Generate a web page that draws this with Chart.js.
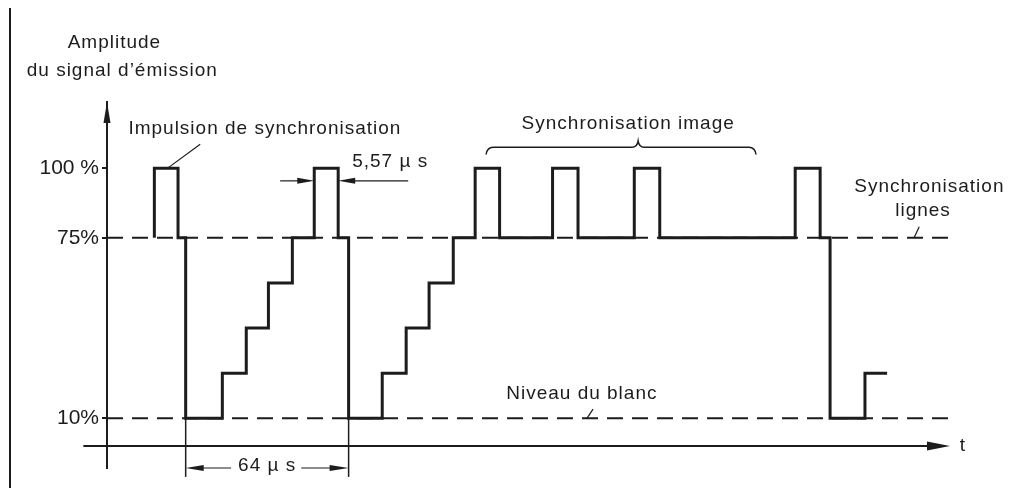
<!DOCTYPE html>
<html>
<head>
<meta charset="utf-8">
<script src="https://cdn.jsdelivr.net/npm/chart.js@4.4.1/dist/chart.umd.min.js"></script>
<style>
  html, body { margin: 0; padding: 0; background: #fff; }
</style>
</head>
<body>
<canvas id="signal-chart" width="1015" height="488"></canvas>
<script>
// Amplitude ticks (% of emission signal)
const levelTicks = [10, 75, 100];
const levelLabels = ['10%', '75%', '100 %'];

// Signal edges: time (µs) where the signal jumps, and the level it jumps to
const edgeTimes = [18.6, 18.6, 27.9, 30.9, 45.3, 54.7, 63.4, 72.8, 81.4, 90.8,
  94.9, 108.1, 117.5, 126.5, 136.0, 144.6, 154.2, 175.0, 185.0, 207.1,
  217.1, 270.3, 280.1, 284.0, 297.7, 306.4];
const edgeLevels = [75, 100, 75, 10, 26.25, 42.5, 58.75, 75, 100, 75,
  10, 26.25, 42.5, 58.75, 75, 100, 75, 100, 75, 100,
  75, 100, 75, 10, 26.25, 26.25];

const syncLevel = 75;      // synchronisation lignes
const whiteLevel = 10;     // niveau du blanc
const refLineEnd = 330.3;  // end of the dashed levels
const lineStart = 30.9;    // 64 µs line period
const lineEnd = 94.9;
const pulseStart = 81.4;   // 5,57 µs sync pulse
const pulseEnd = 90.8;

const ink = '#1c1c1c';
const textFont = '19px "Liberation Sans", Arial, sans-serif';

// Filled arrow head, tip at (x, y), pointing along (dx, dy)
function arrowHead(ctx, x, y, dx, dy, len, half) {
    const bx = x - dx * len, by = y - dy * len;
    ctx.beginPath();
    ctx.moveTo(x, y);
    ctx.lineTo(bx - dy * half, by + dx * half);
    ctx.lineTo(bx + dy * half, by - dx * half);
    ctx.closePath();
    ctx.fill();
}

function segment(ctx, x1, y1, x2, y2, w) {
    ctx.lineWidth = w;
    ctx.beginPath();
    ctx.moveTo(x1, y1);
    ctx.lineTo(x2, y2);
    ctx.stroke();
}

const notes = [
    { text: 'Amplitude', t: 2.9, v: 145.4, align: 'center' },
    { text: 'du signal d\u2019émission', t: 6.0, v: 135.3, align: 'center' },
    { text: 'Impulsion de synchronisation', t: 8.4, v: 114.4, align: 'left' },
    { text: '5,57 µ s', t: 96.3, v: 102.4, align: 'left' },
    { text: 'Synchronisation image', t: 204.7, v: 116.2, align: 'center' },
    { text: 'Synchronisation', t: 323.0, v: 93.2, align: 'center' },
    { text: 'lignes', t: 320.5, v: 84.9, align: 'center' },
    { text: 'Niveau du blanc', t: 156.8, v: 18.7, align: 'left' },
    { text: 't', t: 336.2, v: 0.2, align: 'center' }
];

// Axis arrows, dimension lines, brace, leaders and labels
const annotations = {
    id: 'annotations',
    afterDraw(chart) {
        const { ctx, scales: { x, y } } = chart;
        const px = t => x.getPixelForValue(t);
        const py = v => y.getPixelForValue(v);
        ctx.save();
        ctx.strokeStyle = ink;
        ctx.fillStyle = ink;

        // page border on the left
        segment(ctx, 10, 8, 10, 488, 2);

        // time axis with arrow
        segment(ctx, px(-9.3), py(0), px(x.max) - 18, py(0), 2);
        arrowHead(ctx, px(x.max), py(0), 1, 0, 23, 4.5);
        // amplitude axis arrow
        arrowHead(ctx, px(0), py(y.max), 0, -1, 21, 3.5);

        // 5,57 µs dimension
        const dimY = py(95.5);
        segment(ctx, px(68.0), dimY, px(pulseStart) - 10, dimY, 1.2);
        arrowHead(ctx, px(pulseStart), dimY, 1, 0, 17, 3);
        segment(ctx, px(pulseEnd) + 10, dimY, px(118.3), dimY, 1.2);
        arrowHead(ctx, px(pulseEnd), dimY, -1, 0, 17, 3);

        // 64 µs dimension
        const botY = py(-7.9);
        segment(ctx, px(lineStart), py(whiteLevel), px(lineStart), py(-11.1), 1.5);
        segment(ctx, px(lineEnd), py(whiteLevel), px(lineEnd), py(-11.1), 1.5);
        ctx.font = textFont;
        ctx.letterSpacing = '1px';
        const label64 = '64 µ s';
        const midX = px((lineStart + lineEnd) / 2);
        const halfW = ctx.measureText(label64).width / 2;
        segment(ctx, px(lineStart) + 8, botY, midX - halfW - 7, botY, 1.2);
        segment(ctx, midX + halfW + 5, botY, px(lineEnd) - 8, botY, 1.2);
        arrowHead(ctx, px(lineStart), botY, -1, 0, 18, 3);
        arrowHead(ctx, px(lineEnd), botY, 1, 0, 19, 3);
        ctx.textAlign = 'center';
        ctx.textBaseline = 'middle';
        ctx.fillText(label64, midX, py(-7.2));

        // leader lines
        segment(ctx, px(23.7), py(100), px(36.6), py(108.7), 1.2);
        segment(ctx, px(317.0), py(75), px(319.0), py(79), 1.2);
        segment(ctx, px(188.5), py(10), px(190.9), py(13.3), 1.2);

        // brace over the field sync pulses
        const bL = px(148.9), bR = px(254.9), bM = px(208.6);
        const bTip = py(105.0), bBar = py(107.6), bPeak = py(109.8);
        ctx.lineWidth = 1.5;
        ctx.beginPath();
        ctx.moveTo(bL, bTip);
        ctx.quadraticCurveTo(bL + 1, bBar, bL + 7, bBar);
        ctx.lineTo(bM - 6, bBar);
        ctx.quadraticCurveTo(bM - 1, bBar, bM, bPeak);
        ctx.quadraticCurveTo(bM + 1, bBar, bM + 6, bBar);
        ctx.lineTo(bR - 7, bBar);
        ctx.quadraticCurveTo(bR - 1, bBar, bR, bTip);
        ctx.stroke();

        // text labels
        notes.forEach(n => {
            ctx.textAlign = n.align;
            ctx.fillText(n.text, px(n.t), py(n.v));
        });
        ctx.restore();
    }
};

const ctx = document.getElementById('signal-chart').getContext('2d');
new Chart(ctx, {
    type: 'line',
    data: {
        datasets: [
            {
                data: edgeTimes.map((t, i) => ({ x: t, y: edgeLevels[i] })),
                stepped: true,
                borderColor: ink,
                borderWidth: 3,
                borderJoinStyle: 'miter',
                pointRadius: 0,
                fill: false
            },
            {
                data: [{ x: 0, y: syncLevel }, { x: refLineEnd, y: syncLevel }],
                borderColor: ink,
                borderWidth: 2,
                borderDash: [16, 9],
                pointRadius: 0,
                fill: false
            },
            {
                data: [{ x: 0, y: whiteLevel }, { x: refLineEnd, y: whiteLevel }],
                borderColor: ink,
                borderWidth: 2,
                borderDash: [16, 9],
                pointRadius: 0,
                fill: false
            }
        ]
    },
    options: {
        responsive: false,
        animation: false,
        layout: { padding: { left: 0, top: 102, right: 65, bottom: 20 } },
        plugins: {
            legend: { display: false },
            tooltip: { enabled: false }
        },
        scales: {
            x: { type: 'linear', min: 0, max: 331.1, display: false },
            y: {
                type: 'linear',
                min: -7.9,
                max: 123.9,
                afterFit: s => { s.width = 107; },
                afterBuildTicks: s => { s.ticks = levelTicks.map(v => ({ value: v })); },
                ticks: {
                    callback: v => levelLabels[levelTicks.indexOf(v)],
                    font: { family: '"Liberation Sans", Arial, sans-serif', size: 21 },
                    color: ink,
                    padding: 3
                },
                grid: { drawOnChartArea: false, drawTicks: true, tickLength: 5, color: ink, lineWidth: 2 },
                border: { display: true, color: ink, width: 2 }
            }
        }
    },
    plugins: [annotations]
});
</script>
</body>
</html>
